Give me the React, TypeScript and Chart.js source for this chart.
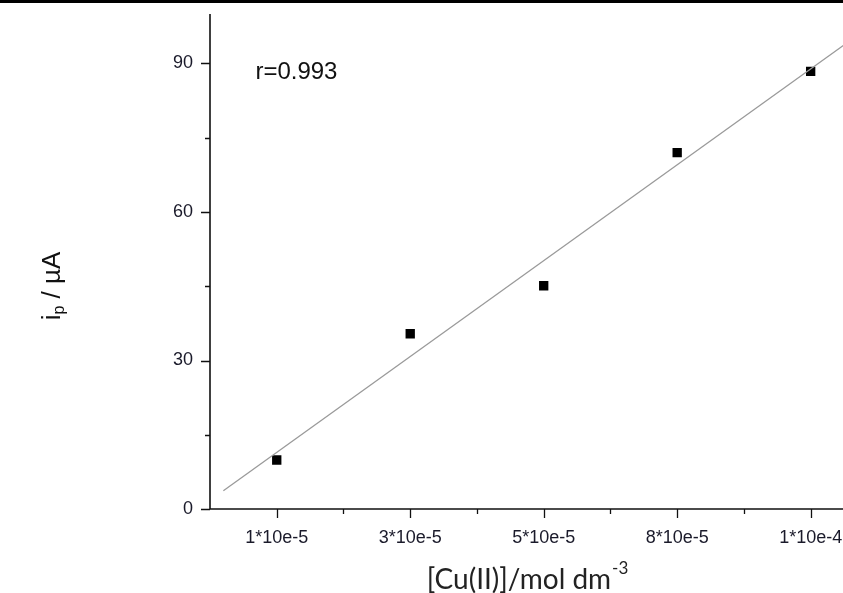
import React, { useEffect, useRef } from "react";
import { Chart, registerables } from "chart.js";

Chart.register(...registerables);

// Cu(II) concentration levels (evenly spaced positions on the axis)
const concentrationLabels = ["1*10e-5", "3*10e-5", "5*10e-5", "8*10e-5", "1*10e-4"];
// Peak current readings, µA
const peakCurrent = [9.9, 35.4, 45.1, 72.0, 88.4];
// Calibration line endpoints (x position, current)
const fitX = [-0.4, 4.5];
const fitY = [3.7, 98.6];
const yTickValues = [0, 30, 60, 90];
const yMinorValues = [15, 45, 75];
const xMinorValues = [0.5, 1.5, 2.5, 3.5];
const correlationText = "r=0.993";

const FONT = "'Liberation Sans', Arial, sans-serif";
const TITLE_FONT = "Lato, 'Open Sans', sans-serif";
const CANVAS_W = 884;
const VIEW_W = 843;
const H = 593;

const axesPlugin = {
  id: "customAxes",
  afterDraw(chart: any) {
    const { ctx, chartArea, scales } = chart;
    const xs = scales.x;
    const ys = scales.y;
    ctx.save();
    // top rule
    ctx.fillStyle = "#000";
    ctx.fillRect(0, 0, chart.width, 3);

    ctx.strokeStyle = "#111";
    ctx.lineWidth = 1.6;
    const x0 = chartArea.left;
    const y0 = chartArea.bottom;
    ctx.beginPath();
    ctx.moveTo(x0, chartArea.top);
    ctx.lineTo(x0, y0);
    ctx.lineTo(chart.width, y0);
    ctx.stroke();

    ctx.lineWidth = 1.3;
    ctx.beginPath();
    yTickValues.forEach((v) => {
      const py = Math.round(ys.getPixelForValue(v)) + 0.5;
      ctx.moveTo(x0 - 9, py);
      ctx.lineTo(x0, py);
    });
    yMinorValues.forEach((v) => {
      const py = Math.round(ys.getPixelForValue(v)) + 0.5;
      ctx.moveTo(x0 - 5, py);
      ctx.lineTo(x0, py);
    });
    concentrationLabels.forEach((_, i) => {
      const px = Math.round(xs.getPixelForValue(i)) + 0.5;
      ctx.moveTo(px, y0);
      ctx.lineTo(px, y0 + 9);
    });
    xMinorValues.forEach((v) => {
      const px = Math.round(xs.getPixelForValue(v)) + 0.5;
      ctx.moveTo(px, y0);
      ctx.lineTo(px, y0 + 5);
    });
    ctx.stroke();

    // correlation annotation
    ctx.fillStyle = "#111";
    ctx.font = `24px ${FONT}`;
    ctx.textBaseline = "middle";
    ctx.textAlign = "left";
    ctx.fillText(correlationText, xs.getPixelForValue(-0.16), ys.getPixelForValue(88.2));

    // y-axis title: i_p / µA
    ctx.save();
    ctx.translate(60, 286);
    ctx.rotate(-Math.PI / 2);
    ctx.textBaseline = "alphabetic";
    const a = "i";
    const b = "p";
    const c = " / µA";
    const big = `26px ${FONT}`;
    const small = `16px ${FONT}`;
    ctx.font = big;
    const wa = ctx.measureText(a).width;
    const wc = ctx.measureText(c).width;
    ctx.font = small;
    const wb = ctx.measureText(b).width;
    const total = wa + wb + wc;
    let sx = -total / 2;
    ctx.font = big;
    ctx.fillText(a, sx, 0);
    sx += wa;
    ctx.font = small;
    ctx.fillText(b, sx, 4);
    sx += wb;
    ctx.font = big;
    ctx.fillText(c, sx, 0);
    ctx.restore();

    // x-axis title: [Cu(II)]/mol dm^-3
    ctx.save();
    ctx.fillStyle = "#222";
    ctx.textBaseline = "alphabetic";
    ctx.textAlign = "left";
    const main = "[Cu(II)]/mol dm";
    const sup = "-3";
    const mainFont = `28px ${TITLE_FONT}`;
    const supFont = `17px ${TITLE_FONT}`;
    ctx.font = mainFont;
    const wm = ctx.measureText(main).width;
    ctx.font = supFont;
    const ws = ctx.measureText(sup).width;
    const tx = 527 - (wm + ws) / 2;
    ctx.font = mainFont;
    ctx.fillText(main, tx, 589);
    ctx.font = supFont;
    ctx.fillText(sup, tx + wm + 1, 574);
    ctx.restore();

    ctx.restore();
  },
};

export default function App() {
  const canvasRef = useRef<HTMLCanvasElement | null>(null);

  useEffect(() => {
    if (!canvasRef.current) return;
    const chart = new Chart(canvasRef.current, {
      type: "scatter",
      data: {
        datasets: [
          {
            type: "line",
            data: fitX.map((x, i) => ({ x, y: fitY[i] })),
            borderColor: "#9a9a9a",
            borderWidth: 1.3,
            pointRadius: 0,
            fill: false,
          } as any,
          {
            data: peakCurrent.map((y, i) => ({ x: i, y })),
            pointStyle: "rect",
            pointRadius: 6.6,
            backgroundColor: "#000",
            borderColor: "#000",
            borderWidth: 0,
          },
        ],
      },
      options: {
        responsive: false,
        animation: false,
        layout: { padding: { top: 14, right: 0, left: 0, bottom: 0 } },
        plugins: {
          legend: { display: false },
          tooltip: { enabled: false },
        },
        scales: {
          x: {
            type: "linear",
            min: -0.5,
            max: 4.5,
            grid: { display: false, drawTicks: false },
            border: { display: false },
            afterBuildTicks: (scale: any) => {
              scale.ticks = concentrationLabels.map((_, i) => ({ value: i }));
            },
            afterFit: (scale: any) => {
              scale.height = 84;
              scale.paddingLeft = 0;
              scale.paddingRight = 0;
            },
            ticks: {
              padding: 18,
              maxRotation: 0,
              autoSkip: false,
              color: "#1a1a2a",
              font: { family: FONT, size: 18 },
              callback: (v: any) => concentrationLabels[Math.round(Number(v))] ?? "",
            },
          },
          y: {
            type: "linear",
            min: 0,
            max: 100,
            grid: { display: false, drawTicks: false },
            border: { display: false },
            afterBuildTicks: (scale: any) => {
              scale.ticks = yTickValues.map((v) => ({ value: v }));
            },
            afterFit: (scale: any) => {
              scale.width = 210;
              scale.paddingTop = 0;
              scale.paddingBottom = 0;
            },
            ticks: {
              padding: 17,
              color: "#1a1a2a",
              font: { family: FONT, size: 18 },
            },
          },
        },
      },
      plugins: [axesPlugin],
    });
    return () => chart.destroy();
  }, []);

  return (
    <div
      style={{
        position: "absolute",
        left: 0,
        top: 0,
        width: VIEW_W,
        height: H,
        overflow: "hidden",
        background: "#fff",
      }}
    >
      <canvas ref={canvasRef} width={CANVAS_W} height={H} style={{ display: "block" }} />
    </div>
  );
}
